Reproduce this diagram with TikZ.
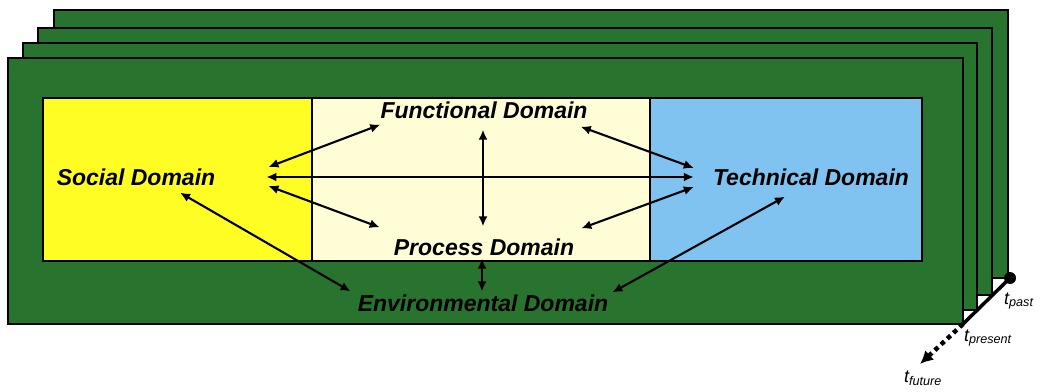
\documentclass[tikz,border=0pt]{standalone}
\usepackage{fontspec}
\setmainfont{Liberation Sans}
\usetikzlibrary{arrows.meta}
\definecolor{sheetgreen}{RGB}{40,116,46}
\definecolor{socialyellow}{RGB}{255,253,36}
\definecolor{paleyellow}{RGB}{254,253,214}
\definecolor{techblue}{RGB}{128,194,240}
\begin{document}
\begin{tikzpicture}[x=1pt,y=-1pt,
    domainlabel/.style={inner sep=0pt,font=\fontsize{23}{27}\selectfont\bfseries\itshape},
    link/.style={line width=2.1pt,{Latex[length=10pt,width=9pt]}-{Latex[length=10pt,width=9pt]}},
    tlabel/.style={inner sep=0pt,font=\fontsize{18}{20}\selectfont\itshape}]
    \useasboundingbox (0,0) rectangle (1041,391);
    % sheets, back to front
    \foreach \l/\t/\r/\b in {54/10/1008/278, 38/28/992/295, 23/43/977/310, 8/58/963/324}
        \filldraw[fill=sheetgreen,line width=2.4pt] (\l,\t) rectangle (\r,\b);
    % inner panel
    \fill[socialyellow] (43,98) rectangle (312,261);
    \fill[paleyellow] (312,98) rectangle (650,261);
    \fill[techblue] (650,98) rectangle (922,261);
    \draw[line width=1.4pt] (312,98)--(312,261);
    \draw[line width=1.4pt] (650,98)--(650,261);
    \draw[line width=2pt] (43,98) rectangle (922,261);
    % domains
    \node[domainlabel] (social) at (136,177) {Social Domain};
    \node[domainlabel] (technical) at (811,177) {Technical Domain};
    \node[domainlabel] (functional) at (484,110) {Functional Domain};
    \node[domainlabel] (process) at (484,247) {Process Domain};
    \node[domainlabel] (environmental) at (483,303) {Environmental Domain};
    % links
    \draw[link] ([xshift=53pt,yshift=10pt]social.east)--([yshift=-6pt]functional.south west);
    \draw[link] ([xshift=51pt]social.east)--([xshift=-19pt]technical.west);
    \draw[link] ([xshift=53pt,yshift=-9pt]social.east)--([xshift=-14pt,yshift=11pt]process.north west);
    \draw[link] ([xshift=-1pt,yshift=-11pt]functional.south)--([xshift=-1pt,yshift=12pt]process.north);
    \draw[link] ([xshift=-7pt,yshift=-8pt]functional.south east)--([xshift=-19pt,yshift=9pt]technical.west);
    \draw[link] ([xshift=-19pt,yshift=-10pt]technical.west)--([xshift=7pt,yshift=10pt]process.north east);
    \draw[link] ([xshift=-26pt,yshift=-11pt]technical.south)--([xshift=4pt,yshift=2pt]environmental.north east);
    \draw[link] ([xshift=44pt,yshift=-7pt]social.south)--([xshift=-7pt,yshift=3pt]environmental.north west);
    \draw[link] ([xshift=-2pt,yshift=-3pt]process.south)--([xshift=-1pt,yshift=3pt]environmental.north);
    % time axis
    \coordinate (past) at (1010,278);
    \coordinate (present) at (963,324);
    \coordinate (future) at (920,364);
    \draw[line width=3.5pt] (present)--(past);
    \fill (past) circle (6pt);
    \draw[line width=4.5pt,dash pattern=on 4.5pt off 4pt,-{Latex[length=13pt,width=13pt]}] (present)--(future);
    \node[tlabel,anchor=base west] (tpast) at (1004,304) {t\textsubscript{past}};
    \node[tlabel,anchor=base west] (tpresent) at (964,341) {t\textsubscript{present}};
    \node[tlabel,anchor=base west] (tfuture) at (904,382) {t\textsubscript{future}};
\end{tikzpicture}
\end{document}
